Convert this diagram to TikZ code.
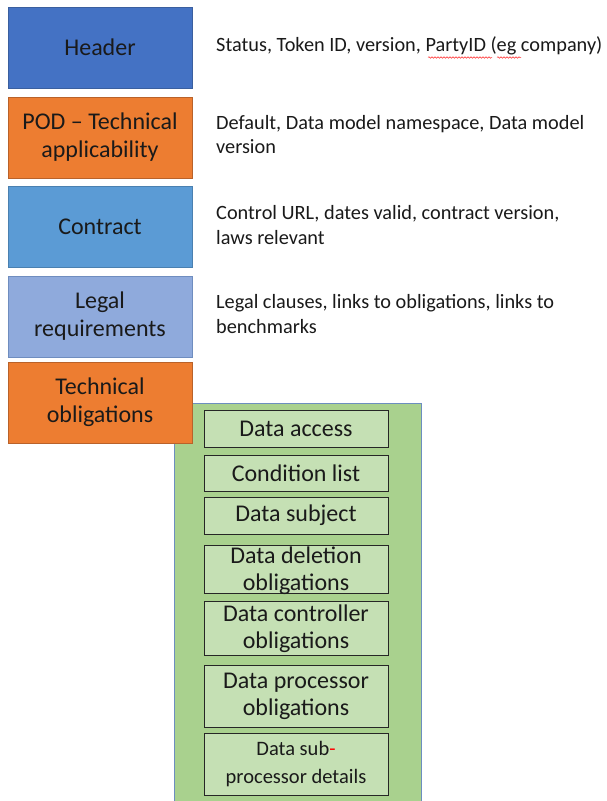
\documentclass[tikz,border=0pt]{standalone}
\usepackage{fontspec}
\setmainfont{Carlito}
\usetikzlibrary{decorations.pathmorphing}
\definecolor{hdrblue}{HTML}{4472C4}
\definecolor{hdrbord}{HTML}{3A5F9F}
\definecolor{podorange}{HTML}{ED7D31}
\definecolor{podbord}{HTML}{B9622A}
\definecolor{ctrblue}{HTML}{5B9BD5}
\definecolor{ctrbord}{HTML}{4A80B0}
\definecolor{legblue}{HTML}{8FAADC}
\definecolor{legbord}{HTML}{6F8DBF}
\definecolor{grnfill}{HTML}{A9D18E}
\definecolor{grnbord}{HTML}{6C8EBF}
\definecolor{innfill}{HTML}{C5E0B4}
\definecolor{txt}{HTML}{1A1A1A}
\tikzset{
  leftbox/.style={draw, line width=0.8pt, minimum width=184pt, minimum height=81pt,
    inner sep=0pt, align=center, text=txt, font=\fontsize{24}{28}\selectfont},
  desc/.style={anchor=west, align=left, inner sep=0pt, text=txt, font=\fontsize{20.3}{24.5}\selectfont},
  innerbox/.style={draw=black!85, line width=0.8pt, fill=innfill, minimum width=184pt,
    inner sep=0pt, align=center, text=txt, font=\fontsize{24}{27.5}\selectfont},
  squig/.style={draw=red!85, line width=0.5pt, decorate, decoration={snake, amplitude=0.8pt, segment length=3pt}}
}
\begin{document}
\begin{tikzpicture}[x=1pt,y=-1pt]
\useasboundingbox (0,0) rectangle (607,801);
\fill[white] (0,0) rectangle (607,801);
% green container
\fill[grnfill] (174,403) rectangle (421,801);
\draw[grnbord, line width=0.8pt] (174,801) -- (174,403) -- (421,403) -- (421,801);
% left boxes
\node[leftbox, draw=hdrbord, fill=hdrblue] (header) at (100,47.5) {Header};
\node[leftbox, draw=podbord, fill=podorange] (pod) at (100,137.5) {POD -- Technical\\applicability};
\node[leftbox, draw=ctrbord, fill=ctrblue] (contract) at (100,226.5) {Contract};
\node[leftbox, draw=legbord, fill=legblue] (legal) at (100,316.5) {Legal\\requirements};
\node[leftbox, draw=podbord, fill=podorange] (tech) at (100,402.5) {Technical\\obligations};
% descriptions
\node[desc] (dheader) at (216,46) {Status, Token ID, version, PartyID (eg company)};
\node[desc] (dpod) at (216,134.5) {Default, Data model namespace, Data model\\version};
\node[desc] (dcontract) at (216,225) {Control URL, dates valid, contract version,\\laws relevant};
\node[desc] (dlegal) at (216,314) {Legal clauses, links to obligations, links to\\benchmarks};
% spell-check underlines
\draw[squig] (428,57.5) -- (492,57.5);
\draw[squig] (497,57.5) -- (521,57.5);
% inner boxes
\node[innerbox, minimum height=37pt] (access) at (296,428.5) {Data access};
\node[innerbox, minimum height=36pt] (cond) at (296,473) {Condition list};
\node[innerbox, minimum height=37pt] (subj) at (296,515.5) {Data subject};
\node[innerbox, minimum height=48pt] (del) at (296,569) {};
\node[align=center, inner sep=0pt, text=txt, font=\fontsize{24}{27.5}\selectfont] (deltxt) at (296,570.5) {Data deletion\\obligations};
\node[innerbox, minimum height=54pt] (ctrl) at (296,628.5) {Data controller\\obligations};
\node[innerbox, minimum height=62pt] (proc) at (296,696.5) {Data processor\\obligations};
\node[innerbox, minimum height=62pt, font=\fontsize{20.5}{27.5}\selectfont] (subp) at (296,764) {Data sub{\color{red}-}\\processor details};
\end{tikzpicture}
\end{document}
